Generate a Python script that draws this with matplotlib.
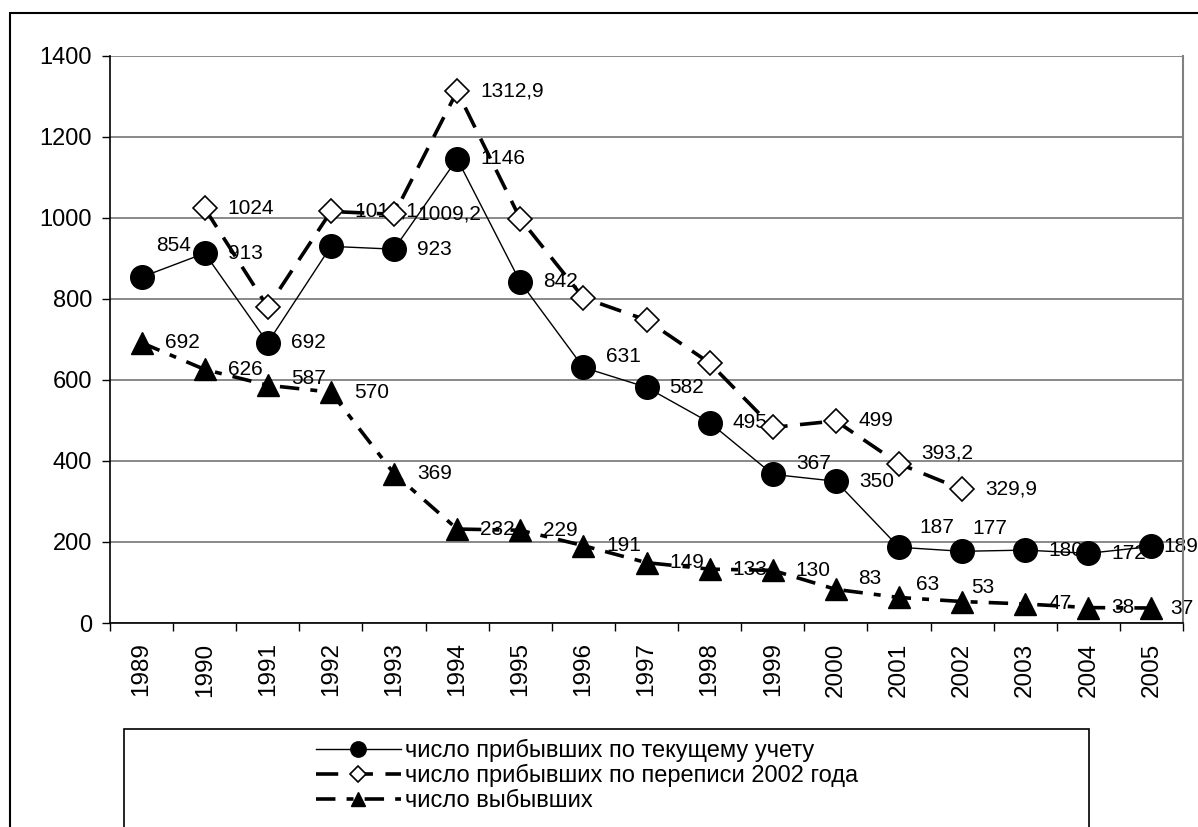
import numpy as np
import matplotlib
matplotlib.use("Agg")
import matplotlib.pyplot as plt
from matplotlib.patches import Rectangle

years = [str(y) for y in range(1989, 2006)]

# число прибывших по текущему учету
current = [854, 913, 692, 930, 923, 1146, 842, 631, 582, 495, 367, 350, 187, 177, 180, 172, 189]
# число прибывших по переписи 2002 года
census = [np.nan, 1024, 780, 1016.1, 1009.2, 1312.9, 998, 803, 748, 642, 483, 499, 393.2, 329.9,
          np.nan, np.nan, np.nan]
# число выбывших
departed = [692, 626, 587, 570, 369, 232, 229, 191, 149, 133, 130, 83, 63, 53, 47, 38, 37]

names = ["число прибывших по текущему учету",
         "число прибывших по переписи 2002 года",
         "число выбывших"]

# which points carry a data label
current_lab = [True] * 17
current_lab[3] = False
census_lab = [False] * 17
for i in [1, 3, 4, 5, 11, 12, 13]:
    census_lab[i] = True
departed_lab = [True] * 17

# label nudges in pixels (dx, dy up), relative to the default right placement
nudge = {
    ("current", 0): (-8, 32), ("current", 7): (0, 11), ("current", 10): (1, 11),
    ("current", 12): (-3, 20), ("current", 13): (-13, 23), ("current", 16): (-11, 0),
    ("departed", 2): (0, 7), ("departed", 11): (-1, 11), ("departed", 12): (-6, 13),
    ("departed", 13): (-14, 14), ("departed", 16): (-4, 0),
    ("census", 12): (-1, 11),
}

plt.rcParams["font.family"] = ["Liberation Sans", "DejaVu Sans"]
plt.rcParams["lines.scale_dashes"] = False

W, H = 1198, 827
fig = plt.figure(figsize=(W / 100, H / 100), dpi=100)
ax = fig.add_axes([110 / W, 1 - 623 / H, (1183 - 110) / W, (623 - 56) / H])

x = np.arange(len(years))

l1, = ax.plot(x, current, color="black", lw=1.0, marker="o", ms=17,
              mfc="black", mec="black", zorder=3, label=names[0])
l2, = ax.plot(x, census, color="black", lw=2.6, ls=(0, (16, 9)), marker="D", ms=12,
              mfc="white", mec="black", mew=1.2, zorder=3, label=names[1])
l3, = ax.plot(x, departed, color="black", lw=2.6, ls=(0, (14, 8, 5, 8)), marker="^", ms=16,
              mfc="black", mec="black", zorder=3, label=names[2])


def fmt(v):
    if float(v).is_integer():
        return str(int(v))
    return ("%.1f" % v).replace(".", ",")


for key, vals, shown in [("current", current, current_lab),
                         ("census", census, census_lab),
                         ("departed", departed, departed_lab)]:
    for i, v in enumerate(vals):
        if not shown[i] or np.isnan(v):
            continue
        dx, dy = nudge.get((key, i), (0, 0))
        ax.annotate(fmt(v), (x[i], v), xytext=(23 + dx, dy), textcoords="offset pixels",
                    ha="left", va="center", fontsize=15, zorder=2.1, annotation_clip=False)

ax.set_xlim(-0.5, len(years) - 0.5)
ax.set_ylim(0, 1400)
ax.set_yticks(range(0, 1401, 200))
ax.set_xticks(x)
ax.set_xticklabels(years, rotation=90, fontsize=17.5)
ax.set_xticks(np.arange(-0.5, len(years)), minor=True)
ax.tick_params(axis="x", which="major", length=0, pad=14)
ax.tick_params(axis="x", which="minor", length=6, width=1, direction="out")
ax.tick_params(axis="y", length=6, width=1, direction="out", pad=7, labelsize=17)
for lab in ax.get_xticklabels():
    lab.set_va("top")

ax.yaxis.grid(True, color="#808080", lw=1.3, zorder=0.5)
ax.set_axisbelow(True)
ax.spines["top"].set_visible(False)
ax.spines["right"].set_color("#808080")
ax.spines["right"].set_linewidth(1.5)
ax.spines["left"].set_linewidth(1.2)
ax.spines["bottom"].set_linewidth(1.2)

# outer chart frame and legend frame (both run off the picture)
fig.patches.append(Rectangle((10 / W, -0.1), 1.2, 1 - 13 / H + 0.1, transform=fig.transFigure,
                             fill=False, lw=1.5, ec="black"))
fig.patches.append(Rectangle((124 / W, -0.1), (1089 - 124) / W, 1 - 729 / H + 0.1,
                             transform=fig.transFigure, fill=False, lw=1.2, ec="black"))

fig.legend(handles=[l1, l2, l3], loc="upper center", bbox_to_anchor=(0.49, 1 - 727 / H),
           frameon=False, borderpad=0, labelspacing=0.1, handlelength=3.6,
           handletextpad=0.2, prop={"size": 17}, markerscale=0.65)

fig.savefig("out.png", dpi=100)
